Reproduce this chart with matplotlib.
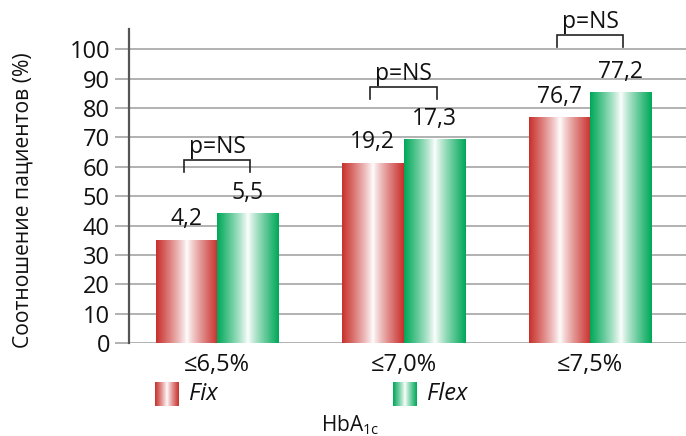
import numpy as np
import matplotlib
matplotlib.use("Agg")
import matplotlib.pyplot as plt
from matplotlib.colors import to_rgb

plt.rcParams['font.family'] = ['Open Sans', 'DejaVu Sans']
plt.rcParams['mathtext.fontset'] = 'custom'
plt.rcParams['mathtext.rm'] = 'Open Sans'

# Data
categories = ['≤6,5%', '≤7,0%', '≤7,5%']
fix_values = [35, 61.2, 76.7]
flex_values = [44, 69.1, 85.1]
fix_labels = ['4,2', '19,2', '76,7']
flex_labels = ['5,5', '17,3', '77,2']
pvalue_text = ['p=NS', 'p=NS', 'p=NS']
yticks = [0, 10, 20, 30, 40, 50, 60, 70, 80, 90, 100]

RED = '#c8302c'
GREEN = '#00a859'
GRID = '#a4a4a4'
INK = '#111111'


def gradient_rgb(edge, n=200, power=0.85):
    t = np.abs(np.linspace(-1, 1, n))
    f = t ** power
    e = np.array(to_rgb(edge))
    rgb = (1 - f)[:, None] * np.ones(3) + f[:, None] * e
    return rgb[None, :, :]


fig = plt.figure(figsize=(6.86, 4.36), dpi=100)
ax = fig.add_axes([0.1876, 0.2126, 0.8124, 0.7216])

x = np.arange(len(categories))
w = 0.33
bars_fix = ax.bar(x - w / 2, fix_values, w, color='none', edgecolor='none')
bars_flex = ax.bar(x + w / 2, flex_values, w, color='none', edgecolor='none')

for bars, col in ((bars_fix, RED), (bars_flex, GREEN)):
    img = gradient_rgb(col)
    for b in bars:
        x0, y0 = b.get_x(), b.get_y()
        ax.imshow(img, extent=[x0, x0 + b.get_width(), y0, y0 + b.get_height()],
                  aspect='auto', zorder=3, interpolation='bilinear')

for bars, labels in ((bars_fix, fix_labels), (bars_flex, flex_labels)):
    for b, lab in zip(bars, labels):
        ax.annotate(lab, (b.get_x() + b.get_width() / 2, b.get_height()),
                    xytext=(0, 11), textcoords='offset points',
                    ha='center', va='baseline', fontsize=16.5, color=INK)

# significance brackets
bracket_levels = [62.2, 87.1, 104.9]
half = 0.178
leg = 4.0
for xi, lvl, txt in zip(x, bracket_levels, pvalue_text):
    ax.plot([xi - half, xi - half, xi + half, xi + half],
            [lvl - leg, lvl, lvl, lvl - leg], color='#222222', lw=1.2,
            solid_joinstyle='miter', clip_on=False, zorder=4)
    ax.annotate(txt, (xi, lvl), xytext=(0, 5), textcoords='offset points',
                ha='center', va='baseline', fontsize=16.5, color=INK)

ax.set_xlim(-0.475, 2.515)
ax.set_ylim(0, 107)
ax.set_yticks(yticks)
ax.set_xticks(x)
ax.set_xticklabels(categories, fontsize=17)
ax.tick_params(axis='x', length=0, pad=7, colors=INK)
ax.tick_params(axis='y', length=10, width=1.2, color=GRID, pad=3.5,
               labelsize=17, labelcolor=INK)
ax.yaxis.grid(True, color=GRID, lw=1.2)
ax.set_axisbelow(True)
for s in ('top', 'right', 'bottom'):
    ax.spines[s].set_visible(False)
ax.spines['left'].set_color('#555555')
ax.spines['left'].set_linewidth(1.6)
ax.spines['left'].set_zorder(5)

fig.text(23 / 686, 0.541, 'Соотношение пациентов (%)', rotation=90,
         ha='center', va='center', fontsize=15.2, color=INK)

# legend swatches
for left_px, col, name in ((155, RED, 'Fix'), (392.7, GREEN, 'Flex')):
    lax = fig.add_axes([left_px / 686, 1 - 405.7 / 436, 24 / 686, 24 / 436])
    lax.imshow(gradient_rgb(col), aspect='auto', interpolation='bilinear')
    lax.axis('off')
    fig.text((left_px + 34) / 686, 1 - 394 / 436, name, style='italic',
             ha='left', va='center', fontsize=17, color=INK)

fig.text(321 / 686, 5 / 436, r'HbA$_{\mathregular{1c}}$', ha='left',
         va='baseline', fontsize=15, color=INK)

fig.savefig('out.png', dpi=100)
